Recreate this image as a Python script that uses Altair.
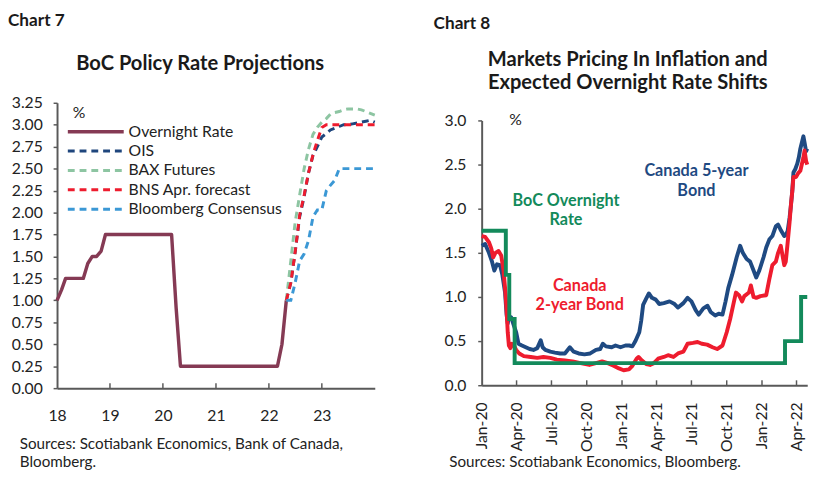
import altair as alt
import pandas as pd

FONT = "Lato"
INK = "#1a1a1a"
GREY = "#595959"

# ---------------- Chart 7 data ----------------
hist_months = [d.strftime("%Y-%m-%d") for d in pd.date_range("2018-01-01", "2022-05-01", freq="MS")]
overnight_hist = [
    1.00, 1.12, 1.25, 1.25, 1.25, 1.25, 1.25, 1.42, 1.50, 1.50, 1.56, 1.75,   # 2018
    1.75, 1.75, 1.75, 1.75, 1.75, 1.75, 1.75, 1.75, 1.75, 1.75, 1.75, 1.75,   # 2019
    1.75, 1.75, 1.75, 0.92, 0.25, 0.25, 0.25, 0.25, 0.25, 0.25, 0.25, 0.25,   # 2020
    0.25, 0.25, 0.25, 0.25, 0.25, 0.25, 0.25, 0.25, 0.25, 0.25, 0.25, 0.25,   # 2021
    0.25, 0.25, 0.25, 0.50, 1.00,                                             # 2022
]
fcst_months = [d.strftime("%Y-%m-%d") for d in pd.date_range("2022-05-01", "2024-01-01", freq="MS")]
ois = [1.00, 1.20, 1.55, 1.95, 2.18, 2.45, 2.65, 2.75, 2.86, 2.90, 2.94, 2.96, 2.98, 3.00, 3.00,
       3.01, 3.02, 3.03, 3.04, 3.05, 3.03]
bax = [1.00, 1.45, 1.89, 2.20, 2.50, 2.72, 2.89, 2.97, 3.03, 3.07, 3.12, 3.14, 3.15, 3.17, 3.18,
       3.18, 3.18, 3.17, 3.15, 3.13, 3.11]
bns = [1.00, 1.20, 1.55, 1.97, 2.20, 2.45, 2.66, 2.82, 2.97, 3.00, 3.00, 3.00, 3.00, 3.00, 3.00,
       3.00, 3.00, 3.00, 3.00, 3.00, 3.00]
bloomberg = [1.00, 1.00, 1.20, 1.45, 1.53, 1.68, 1.95, 2.03, 2.03, 2.25, 2.31, 2.37, 2.50, 2.50, 2.50,
             2.50, 2.50, 2.50, 2.50, 2.50, 2.50]
series7 = ["Overnight Rate", "OIS", "BAX Futures", "BNS Apr. forecast", "Bloomberg Consensus"]
colors7 = ["#853A54", "#1F467D", "#8DC5A2", "#EE1C2E", "#3B98D5"]
year_ticks7 = ["2019-01-01", "2020-01-01", "2021-01-01", "2022-01-01", "2023-01-01"]

# ---------------- Chart 8 data ----------------
y5_dates = ["2020-01-01", "2020-01-10", "2020-01-20", "2020-01-28", "2020-02-03", "2020-02-10", "2020-02-18",
            "2020-02-24", "2020-03-02", "2020-03-06", "2020-03-09", "2020-03-12", "2020-03-18", "2020-03-24",
            "2020-03-31", "2020-04-06", "2020-04-15", "2020-04-25", "2020-05-05", "2020-05-15", "2020-05-25",
            "2020-06-03", "2020-06-08", "2020-06-15", "2020-06-28", "2020-07-10", "2020-07-24", "2020-08-05",
            "2020-08-18", "2020-08-28", "2020-09-10", "2020-09-25", "2020-10-10", "2020-10-25", "2020-11-05",
            "2020-11-12", "2020-11-20", "2020-12-05", "2020-12-15", "2020-12-28", "2021-01-10", "2021-01-20",
            "2021-01-28", "2021-02-05", "2021-02-15", "2021-02-20", "2021-02-25", "2021-03-05", "2021-03-12",
            "2021-03-20", "2021-03-30", "2021-04-08", "2021-04-20", "2021-05-05", "2021-05-18", "2021-05-27",
            "2021-06-10", "2021-06-21", "2021-07-01", "2021-07-12", "2021-07-20", "2021-08-01", "2021-08-12",
            "2021-08-20", "2021-09-01", "2021-09-10", "2021-09-20", "2021-09-28", "2021-10-05", "2021-10-15",
            "2021-10-27", "2021-11-05", "2021-11-12", "2021-11-22", "2021-12-01", "2021-12-10", "2021-12-17",
            "2021-12-25", "2022-01-05", "2022-01-12", "2022-01-20", "2022-01-28", "2022-02-06", "2022-02-12",
            "2022-02-20", "2022-02-28", "2022-03-04", "2022-03-09", "2022-03-14", "2022-03-17", "2022-03-21",
            "2022-03-24", "2022-03-29", "2022-04-03", "2022-04-07", "2022-04-11", "2022-04-19", "2022-04-22",
            "2022-04-26", "2022-04-29"]
y5_values = [1.58, 1.60, 1.50, 1.40, 1.30, 1.37, 1.36,
             1.25, 1.05, 0.80, 0.70, 0.78, 0.77, 0.69,
             0.60, 0.47, 0.45, 0.43, 0.41, 0.40, 0.42,
             0.51, 0.43, 0.40, 0.38, 0.37, 0.36, 0.36,
             0.43, 0.38, 0.36, 0.35, 0.36, 0.40, 0.41,
             0.47, 0.44, 0.43, 0.45, 0.43, 0.45, 0.45,
             0.44, 0.50, 0.60, 0.73, 0.91, 0.98, 1.04,
             0.99, 0.97, 0.92, 0.93, 0.95, 0.92, 0.88,
             0.93, 0.99, 0.95, 0.85, 0.80, 0.87, 0.90,
             0.83, 0.79, 0.81, 0.80, 0.95, 1.10, 1.25,
             1.45, 1.58, 1.50, 1.43, 1.40, 1.30, 1.22,
             1.30, 1.45, 1.56, 1.65, 1.69, 1.80, 1.82,
             1.75, 1.69, 1.70, 1.75, 1.90, 2.02, 2.20,
             2.41, 2.45, 2.51, 2.58, 2.68, 2.82, 2.75,
             2.65, 2.68]
y2_dates = ["2020-01-01", "2020-01-10", "2020-01-20", "2020-01-26", "2020-01-31", "2020-02-06", "2020-02-14",
            "2020-02-21", "2020-02-27", "2020-03-03", "2020-03-06", "2020-03-09", "2020-03-12", "2020-03-16",
            "2020-03-20", "2020-03-25", "2020-03-31", "2020-04-08", "2020-04-20", "2020-05-08", "2020-05-25",
            "2020-06-10", "2020-06-28", "2020-07-15", "2020-08-05", "2020-08-25", "2020-09-15", "2020-10-08",
            "2020-10-25", "2020-11-10", "2020-11-25", "2020-12-10", "2020-12-24", "2021-01-05", "2021-01-19",
            "2021-01-28", "2021-02-08", "2021-02-13", "2021-02-22", "2021-03-05", "2021-03-15", "2021-03-25",
            "2021-04-05", "2021-04-20", "2021-05-01", "2021-05-15", "2021-05-27", "2021-06-10", "2021-06-21",
            "2021-07-05", "2021-07-17", "2021-07-28", "2021-08-11", "2021-08-25", "2021-09-06", "2021-09-20",
            "2021-10-01", "2021-10-10", "2021-10-18", "2021-10-25", "2021-11-02", "2021-11-10", "2021-11-16",
            "2021-11-28", "2021-12-03", "2021-12-10", "2021-12-17", "2021-12-28", "2022-01-12", "2022-01-20",
            "2022-01-28", "2022-02-06", "2022-02-12", "2022-02-19", "2022-02-28", "2022-03-04", "2022-03-09",
            "2022-03-14", "2022-03-17", "2022-03-21", "2022-03-24", "2022-03-31", "2022-04-05", "2022-04-11",
            "2022-04-19", "2022-04-22", "2022-04-26", "2022-04-29"]
y2_values = [1.69, 1.68, 1.62, 1.55, 1.45, 1.50, 1.52,
             1.47, 1.30, 1.05, 0.85, 0.60, 0.45, 0.42,
             0.47, 0.45, 0.40, 0.36, 0.33, 0.32, 0.31,
             0.32, 0.31, 0.29, 0.28, 0.27, 0.25, 0.23,
             0.25, 0.27, 0.25, 0.22, 0.19, 0.17, 0.18,
             0.22, 0.30, 0.32, 0.28, 0.24, 0.23, 0.25,
             0.30, 0.32, 0.34, 0.32, 0.36, 0.38, 0.47,
             0.48, 0.49, 0.47, 0.46, 0.43, 0.41, 0.45,
             0.60, 0.75, 0.91, 1.05, 1.02, 0.95, 1.01,
             1.05, 1.13, 1.00, 0.99, 1.01, 1.02, 1.20,
             1.36, 1.40, 1.50, 1.58, 1.36, 1.40, 1.62,
             1.85, 2.02, 2.20, 2.36, 2.36, 2.40, 2.43,
             2.58, 2.66, 2.54, 2.50]
boc_dates = ["2020-01-01", "2020-03-04", "2020-03-13", "2020-03-27", "2022-03-02", "2022-04-13", "2022-04-29"]
boc_values = [1.75, 1.25, 0.75, 0.25, 0.50, 1.00, 1.00]
quarter_ticks8 = ["2020-04-01", "2020-07-01", "2020-10-01", "2021-01-01", "2021-04-01", "2021-07-01",
                  "2021-10-01", "2022-01-01", "2022-04-01"]
NAVY, RED, GREEN = "#1F4A82", "#EE1C2E", "#138A5B"

# ---------------- helpers ----------------
DUMMY = pd.DataFrame({"k": [0]})


def label(text, x, y, size=16, weight="normal", color=INK, align="left", baseline="middle"):
    return alt.Chart(DUMMY).mark_text(
        text=text, font=FONT, fontSize=size, fontWeight=weight, color=color,
        align=align, baseline=baseline,
    ).encode(x=alt.value(x), y=alt.value(y))


def dt(s):
    y, m, d = (int(p) for p in s.split("-"))
    return alt.DateTime(year=y, month=m, date=d, utc=True)


# ---------------- Chart 7 ----------------
W7, H7 = 324, 291
x7 = alt.X("date:T",
           scale=alt.Scale(type="utc", domain=[dt("2018-01-01"), dt("2024-01-01")]),
           axis=alt.Axis(values=[dt("2018-01-01")] + [dt(s) for s in year_ticks7], format="%y",
                         tickSize=0, labelPadding=20, title=None, labelFlush=False))
y7 = alt.Y("value:Q",
           scale=alt.Scale(domain=[0, 3.25], nice=False),
           axis=alt.Axis(values=[i * 0.25 for i in range(14)], format=".2f", tickSize=4,
                         labelPadding=11, title=None))

hist_df = pd.DataFrame({"date": hist_months, "value": overnight_hist})
fc_rows = []
for name, vals in zip(series7[1:], [ois, bax, bns, bloomberg]):
    for d, v in zip(fcst_months, vals):
        fc_rows.append({"date": d, "value": v, "series": name})
fc_df = pd.DataFrame(fc_rows)

hist_line = alt.Chart(hist_df).mark_line(color=colors7[0], strokeWidth=3.5, strokeJoin="round").encode(x=x7, y=y7)
fc_lines = alt.Chart(fc_df).mark_line(strokeWidth=3, strokeDash=[7, 5]).encode(
    x=x7, y=y7,
    color=alt.Color("series:N", scale=alt.Scale(domain=series7[1:], range=colors7[1:]), legend=None),
    detail="series:N",
)
ticks7 = alt.Chart(pd.DataFrame({"date": year_ticks7})).mark_rule(color=GREY, strokeWidth=1.5).encode(
    x=x7, y=alt.value(H7), y2=alt.value(H7 - 5))

legend_layers = []
for i, (name, col) in enumerate(zip(series7, colors7)):
    yy = 29.5 + 19.75 * i
    kw = dict(color=col, strokeWidth=3.5 if i == 0 else 3)
    if i > 0:
        kw["strokeDash"] = [7, 5]
    legend_layers.append(alt.Chart(DUMMY).mark_rule(**kw).encode(
        x=alt.value(11), x2=alt.value(68), y=alt.value(yy)))
    legend_layers.append(label(name, 73, yy, size=16, color="#222222"))

texts7 = [
    label("Chart 7", -50, -92, size=17.5, weight="bold", baseline="top"),
    label("BoC Policy Rate Projections", 146, -33, size=20.5, weight="bold", align="center",
          baseline="alphabetic"),
    label("%", 16, 11, size=16, color="#222222"),
    label("Sources: Scotiabank Economics, Bank of Canada,", -38, 348, size=15.5, color="#222222"),
    label("Bloomberg.", -38, 366, size=15.5, color="#222222"),
]

chart7 = alt.layer(hist_line, fc_lines, ticks7, *legend_layers, *texts7).properties(width=W7, height=H7)

# ---------------- Chart 8 ----------------
TOP8 = 18                      # plot top sits lower than chart 7's
W8, H8 = 332, 270 + TOP8
x8 = alt.X("date:T",
           scale=alt.Scale(type="utc", domain=[dt("2020-01-01"), dt("2022-04-29")]),
           axis=alt.Axis(values=[dt("2020-01-01")] + [dt(s) for s in quarter_ticks8], format="%b-%y",
                         labelAngle=-90, tickSize=0, labelPadding=17, title=None, labelFlush=False))
y8 = alt.Y("value:Q",
           scale=alt.Scale(domain=[0, 3], nice=False, range=[H8, TOP8]),
           axis=alt.Axis(values=[0, 0.5, 1.0, 1.5, 2.0, 2.5, 3.0], format=".1f", tickSize=4,
                         labelPadding=12, title=None))

line5 = alt.Chart(pd.DataFrame({"date": y5_dates, "value": y5_values})).mark_line(
    color=NAVY, strokeWidth=4, strokeJoin="round").encode(x=x8, y=y8)
line2 = alt.Chart(pd.DataFrame({"date": y2_dates, "value": y2_values})).mark_line(
    color=RED, strokeWidth=4, strokeJoin="round").encode(x=x8, y=y8)
line_boc = alt.Chart(pd.DataFrame({"date": boc_dates, "value": boc_values})).mark_line(
    color=GREEN, strokeWidth=4, interpolate="step-after").encode(x=x8, y=y8)
ticks8 = alt.Chart(pd.DataFrame({"date": quarter_ticks8})).mark_rule(color=GREY, strokeWidth=1.5).encode(
    x=x8, y=alt.value(H8), y2=alt.value(H8 - 5))

texts8 = [
    label("Chart 8", -49, -89, size=17.5, weight="bold", baseline="top"),
    label("Markets Pricing In Inflation and", 149, -38, size=20.5, weight="bold", align="center",
          baseline="alphabetic"),
    label("Expected Overnight Rate Shifts", 149, -14, size=20.5, weight="bold", align="center",
          baseline="alphabetic"),
    label("%", 28, 18, size=16, color="#222222"),
    label("Canada 5-year", 219, 70, size=16.5, weight="bold", color=NAVY, align="center"),
    label("Bond", 219, 90, size=16.5, weight="bold", color=NAVY, align="center"),
    label("BoC Overnight", 86, 100, size=16.5, weight="bold", color=GREEN, align="center"),
    label("Rate", 86, 120, size=16.5, weight="bold", color=GREEN, align="center"),
    label("Canada", 100, 187, size=16.5, weight="bold", color=RED, align="center"),
    label("2-year Bond", 100, 206, size=16.5, weight="bold", color=RED, align="center"),
    label("Sources: Scotiabank Economics, Bloomberg.", -33, 366, size=15.5, color="#222222"),
]

chart8 = alt.layer(line5, line2, line_boc, ticks8, *texts8).properties(width=W8, height=H8)

chart = alt.hconcat(chart7, chart8, spacing=54).properties(
    padding={"left": 0, "top": 0, "right": 5, "bottom": 5}
).configure(font=FONT).configure_view(stroke=None).configure_axis(
    grid=False, domainColor=GREY, domainWidth=2, tickColor=GREY, tickWidth=1.5,
    labelFont=FONT, labelFontSize=16, labelColor="#222222",
)

chart.save("out.html", embed_options={"renderer": "svg", "actions": False})
